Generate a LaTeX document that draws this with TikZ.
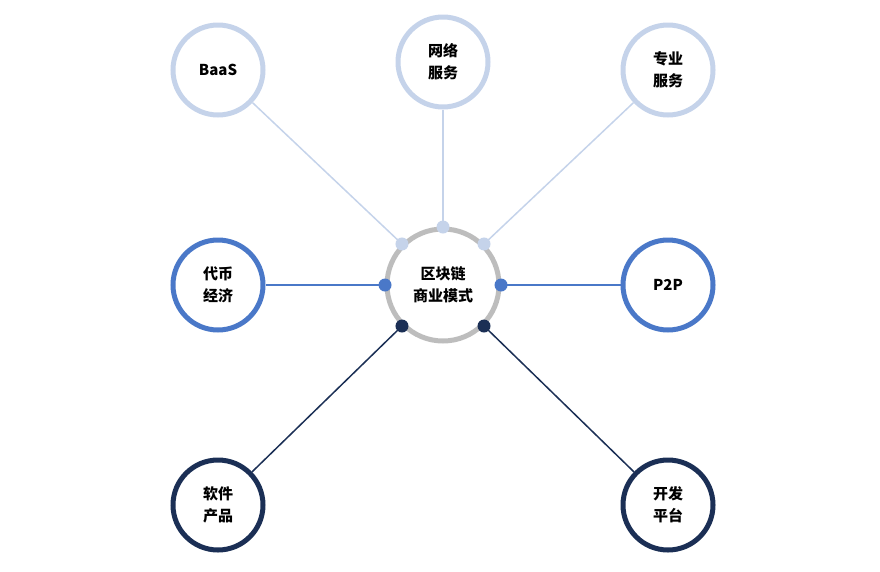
\documentclass[tikz,border=0pt]{standalone}
\usepackage{fontspec}
\setmainfont{Noto Sans CJK SC}
\usetikzlibrary{positioning,calc}
\definecolor{lightblue}{HTML}{C5D3EA}
\definecolor{midblue}{HTML}{4A78C8}
\definecolor{navy}{HTML}{1B2F55}
\definecolor{ring}{HTML}{BDBDBD}
\tikzset{
  hub/.style={circle,draw=ring,line width=5pt,fill=white,minimum size=112pt,align=center,font=\fontsize{15}{22}\selectfont\bfseries},
  leaf/.style={circle,line width=5pt,fill=white,minimum size=90pt,align=center,font=\fontsize{15}{22}\selectfont\bfseries},
  dot/.style={circle,fill=#1,inner sep=0pt,minimum size=13pt},
  link/.style={draw=#1,line width=1.5pt}
}
\begin{document}
\begin{tikzpicture}[x=1pt,y=1pt]
  \useasboundingbox (0,0) rectangle (880,-571);
  \node[hub] (hub) at (443,-285) {区块链\\商业模式};
  \node[leaf,draw=lightblue] (baas) at (218,-70) {BaaS};
  \node[leaf,draw=lightblue] (net) at (443,-62) {网络\\服务};
  \node[leaf,draw=lightblue] (pro) at (668,-70) {专业\\服务};
  \node[leaf,draw=midblue] (coin) at (218,-285) {代币\\经济};
  \node[leaf,draw=midblue] (p2p) at (668,-285) {P2P};
  \node[leaf,draw=navy] (soft) at (218,-505) {软件\\产品};
  \node[leaf,draw=navy] (dev) at (668,-505) {开发\\平台};
  % connectors from ring dots
  \foreach \ang/\tgt/\col in {135/baas/lightblue,90/net/lightblue,45/pro/lightblue,
      180/coin/midblue,0/p2p/midblue,225/soft/navy,315/dev/navy}{
    \coordinate (d\tgt) at ($(hub.center)+(\ang:58)$);
    \path[link=\col] (d\tgt) -- (\tgt);
    \node[dot=\col] at (d\tgt) {};
  }
\end{tikzpicture}
\end{document}
